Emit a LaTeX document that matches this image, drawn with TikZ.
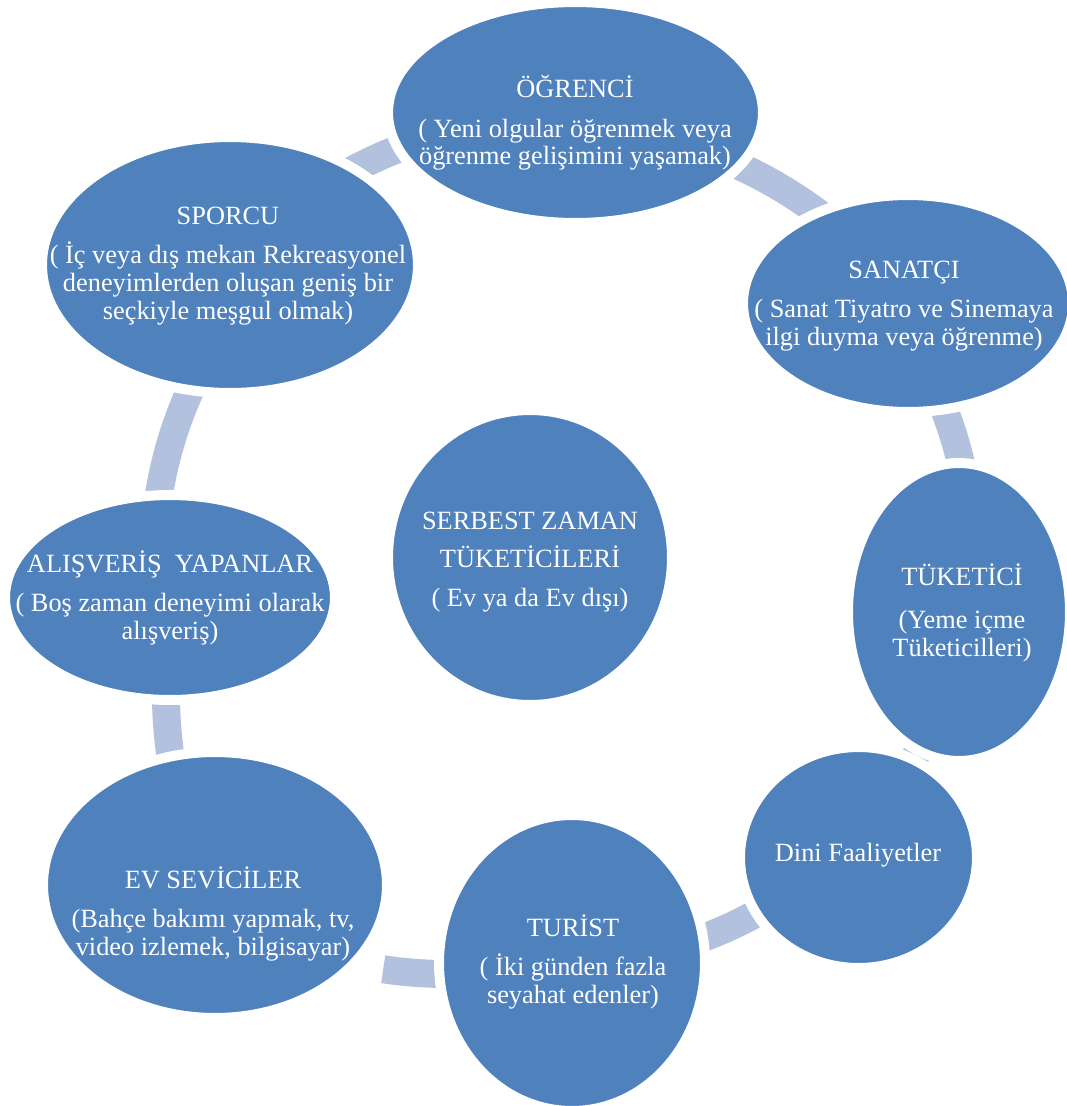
\documentclass[tikz,border=0pt]{standalone}
\usepackage{fontspec}
\setmainfont{Liberation Serif}
\usetikzlibrary{shapes.geometric}
\definecolor{blob}{HTML}{4F81BD}
\definecolor{ring}{HTML}{B2C1DD}

\begin{document}
\begin{tikzpicture}[x=0.02cm, y=-0.02cm,
	bubble/.style={shape=ellipse, fill=blob, draw=white, line width=0.2cm},
	lbl/.style={text=white, align=center, font=\fontsize{15}{15.8}\selectfont},
	link/.style={draw=ring, line width=0.56cm}]
	\useasboundingbox (0,0) rectangle (1066,1106);

	\coordinate (hub) at (560,558);
	\coordinate (hubev) at (446,554);
	\coordinate (hubal) at (586,695);

	% pieces of the ring, the bubbles hide their ends
	\draw[link] (hub) ++(237:440) arc[start angle=237, end angle=252, radius=440];
	\draw[link] (hub) ++(-69:431) arc[start angle=-69, end angle=-49, radius=431];
	\draw[link] (hub) ++(-25:412) arc[start angle=-25, end angle=-9, radius=412];
	\draw[link] (hub) ++(24:407) arc[start angle=24, end angle=33, radius=407];
	\draw[link] (hub) ++(56:406) arc[start angle=56, end angle=74, radius=406];
	\draw[link] (hubev) ++(85:420) arc[start angle=85, end angle=98.6, radius=420];
	\draw[link] (hubal) ++(166:420) arc[start angle=166, end angle=183, radius=420];
	\draw[link] (hub) ++(185:406) arc[start angle=185, end angle=208, radius=406];

	\node[bubble, minimum width=7.5cm, minimum height=4.42cm] (ogr) at (575.5,112.5) {};
	\node[bubble, minimum width=6.6cm, minimum height=4.34cm] (san) at (908,303.5) {};
	\node[bubble, minimum width=4.44cm, minimum height=5.96cm] (tuk) at (959,612) {};
	\node[bubble, minimum width=4.74cm, minimum height=4.42cm] (din) at (858.5,857.5) {};
	\node[bubble, minimum width=5.32cm, minimum height=5.92cm] (tur) at (572,963) {};
	\node[bubble, minimum width=6.88cm, minimum height=5.32cm] (ev) at (215,885) {};
	\node[bubble, minimum width=6.6cm, minimum height=4.1cm] (alis) at (170,597.5) {};
	\node[bubble, minimum width=7.52cm, minimum height=5.12cm] (spor) at (230,265) {};
	\node[bubble, minimum width=5.68cm, minimum height=5.9cm] (serb) at (530,557.5) {};

	\node[lbl] (ogrt) at (575,123) {ÖĞRENCİ\\[6.5pt] ( Yeni olgular öğrenmek veya\\ öğrenme gelişimini yaşamak)};
	\node[lbl] (sant) at (904,306) {SANATÇI\\[6.5pt] ( Sanat Tiyatro ve Sinemaya\\ ilgi duyma veya öğrenme)};
	\node[lbl] (tukt) at (962,613) {TÜKETİCİ\\[8.5pt] (Yeme içme\\ Tüketicilleri)};
	\node[lbl] (dint) at (858,855) {Dini Faaliyetler};
	\node[lbl] (turt) at (573,962) {TURİST\\[6.5pt] ( İki günden fazla\\ seyahat edenler)};
	\node[lbl] (evt) at (213,914) {EV SEVİCİLER\\[6.5pt] (Bahçe bakımı yapmak, tv,\\ video izlemek, bilgisayar)};
	\node[lbl] (alist) at (170,598) {ALIŞVERİŞ\ \ YAPANLAR\\[6.5pt] ( Boş zaman deneyimi olarak\\ alışveriş)};
	\node[lbl] (sport) at (228,266) {SPORCU\\[6.5pt] ( İç veya dış mekan Rekreasyonel\\ deneyimlerden oluşan geniş bir\\ seçkiyle meşgul olmak)};
	\node[lbl] (serbt) at (530,562) {SERBEST ZAMAN\\[5.5pt] TÜKETİCİLERİ\\[6.5pt] ( Ev ya da Ev dışı)};

\end{tikzpicture}
\end{document}
